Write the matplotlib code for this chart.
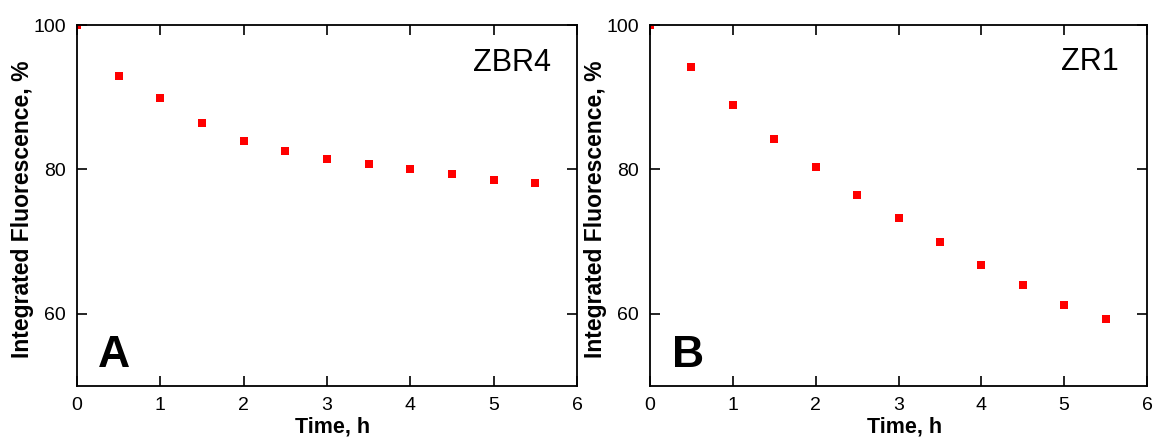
import matplotlib
matplotlib.use("Agg")
import matplotlib.pyplot as plt

plt.rcParams['font.family'] = ['Liberation Sans', 'DejaVu Sans']

time_h = [0, 0.5, 1.0, 1.5, 2.0, 2.5, 3.0, 3.5, 4.0, 4.5, 5.0, 5.5]
zbr4 = [100, 93.0, 89.9, 86.4, 84.0, 82.6, 81.5, 80.7, 80.0, 79.3, 78.6, 78.1]
zr1 = [100, 94.2, 88.9, 84.2, 80.3, 76.5, 73.2, 70.0, 66.8, 64.0, 61.2, 59.3]
xticks = [0, 1, 2, 3, 4, 5, 6]
yticks = [60, 80, 100]
panels = [("A", "ZBR4", zbr4, 0.042, 0.948, 0.873),
          ("B", "ZR1", zr1, 0.044, 0.944, 0.876)]

fig = plt.figure(figsize=(11.54, 4.41), dpi=100)
lefts = [77/1154, 650/1154]
widths = [500/1154, 497/1154]
bottom = 1 - 386/441
height = (386 - 25)/441

for (letter, name, vals, lx, nx, ny), left, width in zip(panels, lefts, widths):
    ax = fig.add_axes([left, bottom, width, height])
    ax.plot(time_h, vals, linestyle='none', marker='s', markersize=5.6,
            color='#ff0000', markeredgewidth=0)
    ax.set_xlim(0, 6)
    ax.set_ylim(50, 100)
    ax.set_xticks(xticks)
    ax.set_yticks(yticks)
    ax.tick_params(direction='in', length=7, width=1.2, top=True, right=True,
                   labelsize=14, pad=8)
    for s in ax.spines.values():
        s.set_linewidth(1.3)
    ax.set_xlabel("Time, h", fontsize=15.5, fontweight='bold')
    ax.xaxis.set_label_coords(0.512, -0.085)
    ax.xaxis.label.set_va('top')
    ax.set_ylabel("Integrated Fluorescence, %", fontsize=16.5, fontweight='bold')
    ax.yaxis.set_label_coords(-0.086, 0.49)
    ax.text(lx, 0.053, letter, transform=ax.transAxes, fontsize=32,
            fontweight='bold', ha='left', va='baseline')
    ax.text(nx, ny, name, transform=ax.transAxes, fontsize=22,
            ha='right', va='baseline')

fig.savefig("out.png", dpi=100)
